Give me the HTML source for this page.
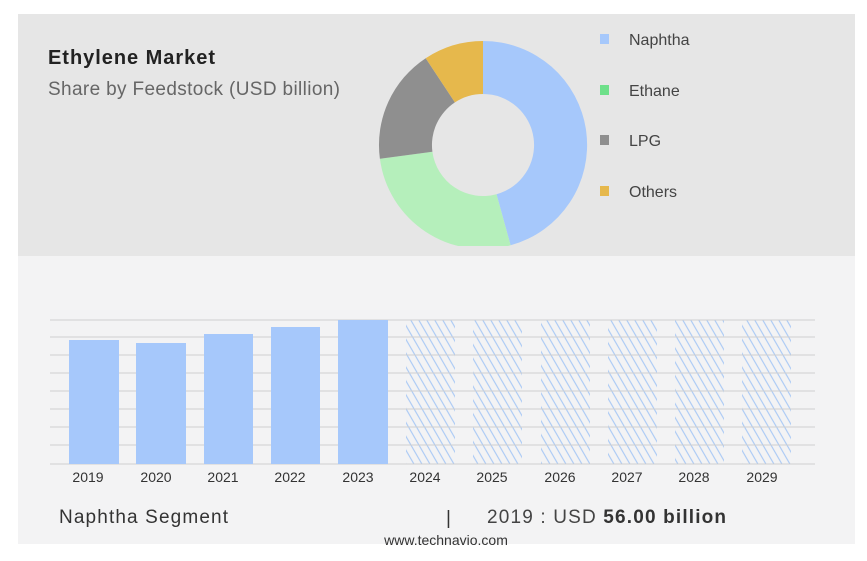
<!DOCTYPE html>
<html><head><meta charset="utf-8"><style>
body{margin:0;background:#fff;width:867px;height:561px;overflow:hidden;font-family:"Liberation Sans",sans-serif}
</style></head><body>
<svg width="867" height="561" xmlns="http://www.w3.org/2000/svg" style="position:absolute;left:0;top:0">
<defs>
<pattern id="h" patternUnits="userSpaceOnUse" width="8" height="12" patternTransform="skewX(30)">
<rect width="8" height="12" fill="#f3f3f4"/>
<line x1="2" y1="0" x2="2" y2="12" stroke="#a9c9f5" stroke-width="1.3"/>
</pattern>
<clipPath id="c"><rect x="0" y="0" width="867" height="246"/></clipPath>
</defs>
<rect x="18" y="14" width="837" height="242" fill="#e6e6e6"/>
<rect x="18" y="256" width="837" height="288" fill="#f3f3f4"/>
<text x="48" y="64" font-size="20" font-weight="bold" fill="#222" textLength="167">Ethylene Market</text>
<text x="48" y="95" font-size="19" fill="#666" textLength="292">Share by Feedstock (USD billion)</text>
<g clip-path="url(#c)">
<path d="M483,41 A104,104 0 0 1 510.6,245.3 L496.5,194.2 A51,51 0 0 0 483,94 Z" fill="#a6c8fb"/>
<path d="M510.6,245.3 A104,104 0 0 1 379.9,158.8 L432.4,151.7 A51,51 0 0 0 496.5,194.2 Z" fill="#b5efbb"/>
<path d="M379.9,158.8 A104,104 0 0 1 425.7,58.2 L454.9,102.4 A51,51 0 0 0 432.4,151.7 Z" fill="#8f8f8f"/>
<path d="M425.7,58.2 A104,104 0 0 1 483,41 L483,94 A51,51 0 0 0 454.9,102.4 Z" fill="#e6b84c"/>
</g>
<g font-size="16" fill="#444">
<rect x="600" y="34" width="9" height="10" fill="#a6c8fb"/><text x="629" y="45">Naphtha</text>
<rect x="600" y="85" width="9" height="10" fill="#6ee08a"/><text x="629" y="96">Ethane</text>
<rect x="600" y="135" width="9" height="10" fill="#8f8f8f"/><text x="629" y="146">LPG</text>
<rect x="600" y="186" width="9" height="10" fill="#e6b84c"/><text x="629" y="197">Others</text>
</g>
<g fill="url(#h)">
<rect x="406" y="320" width="49" height="144"/><rect x="473" y="320" width="49" height="144"/>
<rect x="541" y="320" width="49" height="144"/><rect x="608" y="320" width="49" height="144"/>
<rect x="675" y="320" width="49" height="144"/><rect x="742" y="320" width="49" height="144"/>
</g>
<g stroke="#cfcfcf" stroke-width="1">
<line x1="50" y1="320" x2="815" y2="320"/><line x1="50" y1="337" x2="815" y2="337"/>
<line x1="50" y1="355" x2="815" y2="355"/><line x1="50" y1="373" x2="815" y2="373"/>
<line x1="50" y1="391" x2="815" y2="391"/><line x1="50" y1="409" x2="815" y2="409"/>
<line x1="50" y1="427" x2="815" y2="427"/><line x1="50" y1="445" x2="815" y2="445"/>
<line x1="50" y1="464" x2="815" y2="464"/>
</g>
<g fill="#a6c8fb">
<rect x="69" y="340" width="50" height="124"/><rect x="136" y="343" width="50" height="121"/>
<rect x="204" y="334" width="49" height="130"/><rect x="271" y="327" width="49" height="137"/>
<rect x="338" y="320" width="50" height="144"/>
</g>
<g font-size="14" fill="#333" text-anchor="middle">
<text x="88" y="482">2019</text><text x="156" y="482">2020</text><text x="223" y="482">2021</text>
<text x="290" y="482">2022</text><text x="358" y="482">2023</text><text x="425" y="482">2024</text>
<text x="492" y="482">2025</text><text x="560" y="482">2026</text><text x="627" y="482">2027</text>
<text x="694" y="482">2028</text><text x="762" y="482">2029</text>
</g>
<text x="59" y="523" font-size="19" fill="#333" textLength="169">Naphtha Segment</text>
<text x="446" y="524" font-size="19" fill="#333">|</text>
<text x="487" y="523" font-size="19" fill="#444" textLength="239">2019 : USD <tspan font-weight="bold" fill="#333">56.00 billion</tspan></text>
<text x="446" y="545" font-size="14" fill="#333" text-anchor="middle">www.technavio.com</text>
</svg>
</body></html>
